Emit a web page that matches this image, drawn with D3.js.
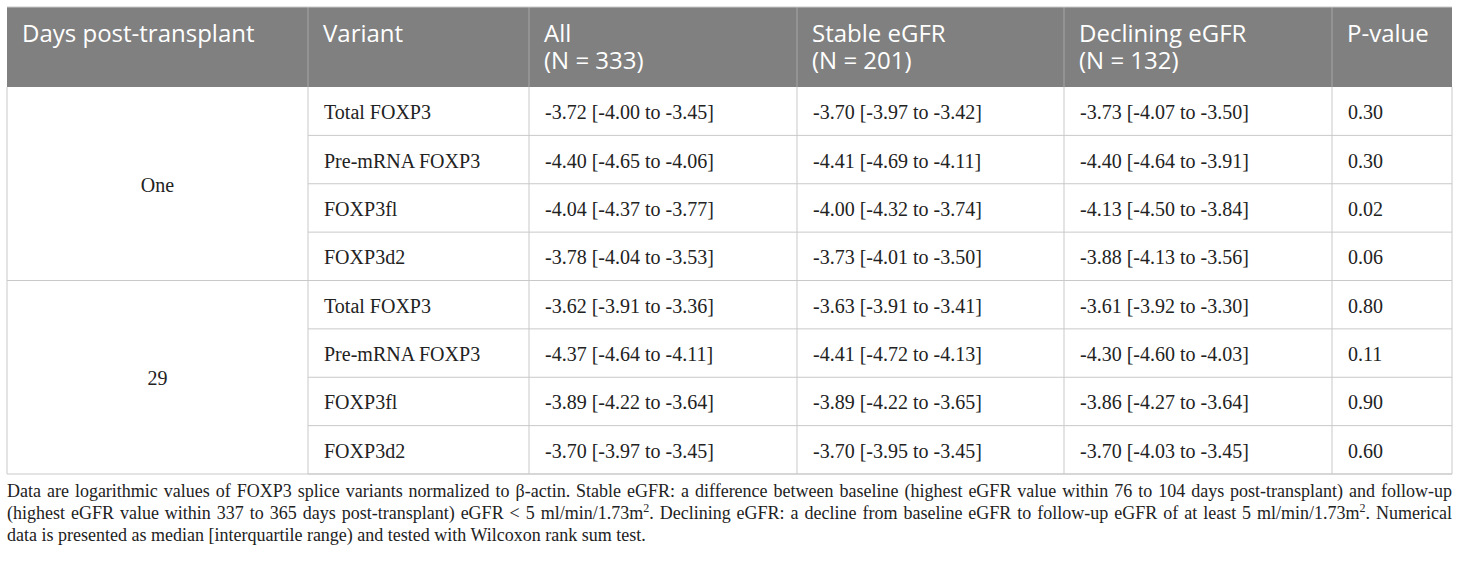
<!DOCTYPE html>
<html>
<head>
<meta charset="utf-8">
<script src="https://d3js.org/d3.v7.min.js"></script>
<style>
  body { margin: 0; background: #fff; }
  .head { font-family: "Open Sans", sans-serif; font-size: 24px; fill: #fff; }
  .cell { font-family: "Liberation Serif", serif; font-size: 20px; fill: #222; }
  #note {
    position: absolute; left: 7px; top: 480px; width: 1445px;
    font-family: "Liberation Serif", serif; font-size: 18px; color: #222;
    line-height: 22px;
  }
  #note div { text-align: justify; text-align-last: justify; white-space: nowrap; }
  #note div.last { text-align-last: left; }
  #note sup { font-size: 12px; line-height: 0; }
</style>
</head>
<body>
<svg id="table" width="1460" height="480"></svg>
<div id="note"></div>
<script>
  // table content
  const headers = [["Days post-transplant"], ["Variant"], ["All", "(N = 333)"],
                   ["Stable eGFR", "(N = 201)"], ["Declining eGFR", "(N = 132)"], ["P-value"]];
  const days = ["One", "29"];
  const variants = ["Total FOXP3", "Pre-mRNA FOXP3", "FOXP3fl", "FOXP3d2"];
  const allVals = ["-3.72 [-4.00 to -3.45]", "-4.40 [-4.65 to -4.06]", "-4.04 [-4.37 to -3.77]", "-3.78 [-4.04 to -3.53]",
                   "-3.62 [-3.91 to -3.36]", "-4.37 [-4.64 to -4.11]", "-3.89 [-4.22 to -3.64]", "-3.70 [-3.97 to -3.45]"];
  const stableVals = ["-3.70 [-3.97 to -3.42]", "-4.41 [-4.69 to -4.11]", "-4.00 [-4.32 to -3.74]", "-3.73 [-4.01 to -3.50]",
                      "-3.63 [-3.91 to -3.41]", "-4.41 [-4.72 to -4.13]", "-3.89 [-4.22 to -3.65]", "-3.70 [-3.95 to -3.45]"];
  const decliningVals = ["-3.73 [-4.07 to -3.50]", "-4.40 [-4.64 to -3.91]", "-4.13 [-4.50 to -3.84]", "-3.88 [-4.13 to -3.56]",
                         "-3.61 [-3.92 to -3.30]", "-4.30 [-4.60 to -4.03]", "-3.86 [-4.27 to -3.64]", "-3.70 [-4.03 to -3.45]"];
  const pValues = ["0.30", "0.30", "0.02", "0.06", "0.80", "0.11", "0.90", "0.60"];
  const noteLines = [
    "Data are logarithmic values of FOXP3 splice variants normalized to \u03b2-actin. Stable eGFR: a difference between baseline (highest eGFR value within 76 to 104 days post-transplant) and follow-up",
    "(highest eGFR value within 337 to 365 days post-transplant) eGFR &lt; 5 ml/min/1.73m<sup>2</sup>. Declining eGFR: a decline from baseline eGFR to follow-up eGFR of at least 5 ml/min/1.73m<sup>2</sup>. Numerical",
    "data is presented as median [interquartile range) and tested with Wilcoxon rank sum test."
  ];

  const svg = d3.select("svg#table");
  const colEdges = [7, 308, 529, 797, 1064, 1332, 1452];
  const tableTop = 7, headBottom = 87, tableBottom = 474;
  const pad = 16;
  const border = "#c9c9c9";

  const x = d3.scaleOrdinal().domain(d3.range(colEdges.length)).range(colEdges);
  const rows = d3.range(days.length * variants.length);
  const y = d3.scaleBand().domain(rows).range([headBottom, tableBottom]);
  const groupY = d3.scaleBand().domain(days).range([headBottom, tableBottom]);

  // header
  svg.append("rect").attr("x", x(0)).attr("y", tableTop)
     .attr("width", x(6) - x(0)).attr("height", headBottom - tableTop).attr("fill", "#808080");

  headers.forEach((lines, c) => {
    let t = svg.append("text").attr("class", "head");
    lines.forEach((l, i) => {
      t.append("tspan").attr("x", x(c) + pad - 1).attr("y", 42 + i * 27).text(l);
    });
  });

  // header column lines
  d3.range(1, 6).forEach(c => {
    svg.append("line").attr("x1", x(c)).attr("x2", x(c)).attr("y1", tableTop).attr("y2", headBottom)
       .attr("stroke", "#a6a6a6").attr("stroke-width", 1);
  });

  // body
  const rowData = rows.map(i => ({
    variant: variants[i % variants.length],
    all: allVals[i], stable: stableVals[i], declining: decliningVals[i], p: pValues[i]
  }));
  const keys = ["variant", "all", "stable", "declining", "p"];

  rowData.forEach((d, i) => {
    keys.forEach((k, j) => {
      svg.append("text").attr("class", "cell")
         .attr("x", x(j + 1) + pad).attr("y", y(i) + y.bandwidth() / 2 + 1)
         .attr("dominant-baseline", "central").text(d[k]);
    });
    // row line across columns 2-6
    svg.append("line").attr("x1", x(1)).attr("x2", x(6))
       .attr("y1", y(i) + y.bandwidth()).attr("y2", y(i) + y.bandwidth())
       .attr("stroke", border);
  });

  days.forEach(d => {
    svg.append("text").attr("class", "cell").attr("text-anchor", "middle")
       .attr("x", (x(0) + x(1)) / 2).attr("y", groupY(d) + groupY.bandwidth() / 2 + 1)
       .attr("dominant-baseline", "central").text(d);
    svg.append("line").attr("x1", x(0)).attr("x2", x(6))
       .attr("y1", groupY(d) + groupY.bandwidth()).attr("y2", groupY(d) + groupY.bandwidth())
       .attr("stroke", border);
  });

  // vertical lines in body
  d3.range(0, 7).forEach(c => {
    svg.append("line").attr("x1", x(c)).attr("x2", x(c)).attr("y1", headBottom).attr("y2", tableBottom)
       .attr("stroke", border);
  });
  svg.append("line").attr("x1", x(0)).attr("x2", x(6)).attr("y1", tableTop).attr("y2", tableTop)
     .attr("stroke", border);

  // footnote
  d3.select("#note").selectAll("div").data(noteLines).join("div")
    .attr("class", (d, i) => i === noteLines.length - 1 ? "last" : null)
    .html(d => d);
</script>
</body>
</html>
